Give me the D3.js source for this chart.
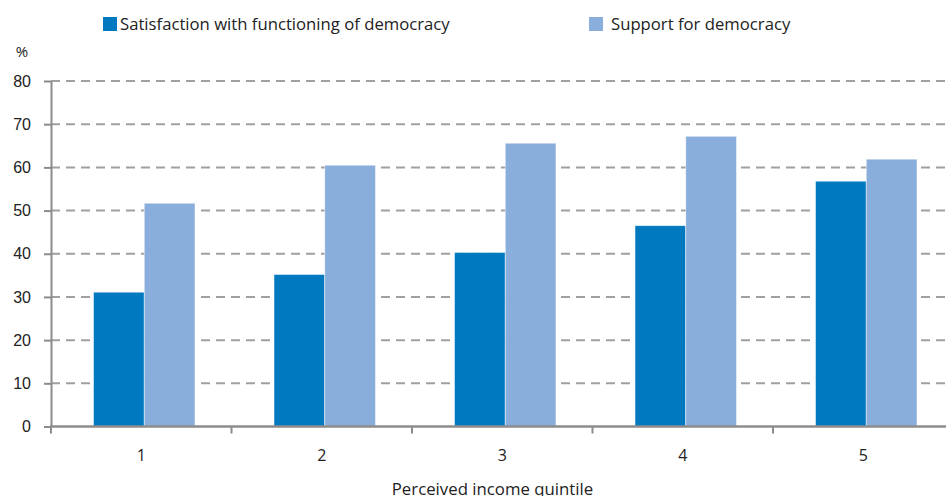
<!DOCTYPE html>
<html>
<head>
<meta charset="utf-8">
<script src="https://cdn.jsdelivr.net/npm/d3@7"></script>
<style>
  html, body { margin: 0; padding: 0; background: #fff; }
  svg { display: block; font-family: "Open Sans", Lato, sans-serif; }
</style>
</head>
<body>
<svg id="chart" width="946" height="496"></svg>
<script>
// Perceived income quintiles and the two survey measures (%)
const quintiles = ["1", "2", "3", "4", "5"];
const seriesNames = ["Satisfaction with functioning of democracy", "Support for democracy"];
const satisfaction = [31.1, 35.2, 40.3, 46.5, 56.8];
const support = [51.7, 60.5, 65.6, 67.2, 61.9];
const yTicks = [0, 10, 20, 30, 40, 50, 60, 70, 80];
const colors = ["#0079c1", "#8aaedb"];

const svg = d3.select("#chart");
const W = 946, H = 496;
const plotLeft = 51, plotTop = 81, plotBottom = 426.5;
const bandW = 180.5;

const x = d3.scaleBand().domain(quintiles).range([plotLeft, plotLeft + bandW * quintiles.length]).padding(0);
const y = d3.scaleLinear().domain([0, 80]).range([plotBottom, plotTop]);
const inner = d3.scaleBand().domain([0, 1]).range([0, 101.5]).padding(0);
const pairOffset = (bandW - 101.5) / 2 + 3;

// horizontal dashed gridlines
svg.append("g").selectAll("line")
  .data(yTicks.filter(d => d > 0))
  .join("line")
  .attr("x1", plotLeft).attr("x2", W)
  .attr("y1", d => y(d)).attr("y2", d => y(d))
  .attr("stroke", "#a0a0a0").attr("stroke-width", 2)
  .attr("stroke-dasharray", "9,6");

// bars
const rows = quintiles.map((q, i) => ({ q, vals: [satisfaction[i], support[i]] }));
const groups = svg.append("g").selectAll("g")
  .data(rows).join("g")
  .attr("transform", d => `translate(${x(d.q) + pairOffset},0)`);
groups.selectAll("rect")
  .data(d => d.vals.map((v, k) => ({ v, k })))
  .join("rect")
  .attr("x", d => inner(d.k))
  .attr("width", inner.bandwidth())
  .attr("y", d => y(d.v))
  .attr("height", d => y(0) - y(d.v))
  .attr("fill", d => colors[d.k])
  .attr("stroke", "rgba(255,255,255,0.6)")
  .attr("stroke-width", 0.8);

// y axis
const yAxis = d3.axisLeft(y).tickValues(yTicks).tickSize(7).tickPadding(13).tickSizeOuter(0);
const gy = svg.append("g").attr("transform", `translate(${plotLeft},0)`).call(yAxis);
gy.select(".domain").attr("stroke", "#8c8c8c").attr("stroke-width", 2);
gy.selectAll(".tick line").attr("stroke", "#8c8c8c").attr("stroke-width", 2);
gy.selectAll(".tick text").attr("fill", "#222").style("font-size", "16px").style("font-family", "inherit");

// x axis
const gx = svg.append("g").attr("transform", `translate(0,${plotBottom})`);
gx.append("line").attr("x1", plotLeft - 1).attr("x2", W).attr("y1", 0).attr("y2", 0)
  .attr("stroke", "#8c8c8c").attr("stroke-width", 2.5);
gx.selectAll(".xt").data(quintiles).join("line")
  .attr("class", "xt")
  .attr("x1", d => x(d)).attr("x2", d => x(d))
  .attr("y1", 0).attr("y2", 7)
  .attr("stroke", "#8c8c8c").attr("stroke-width", 2);
gx.selectAll(".xl").data(quintiles).join("text")
  .attr("class", "xl")
  .attr("x", d => x(d) + x.bandwidth() / 2)
  .attr("y", 34.5)
  .attr("text-anchor", "middle")
  .attr("fill", "#222").style("font-size", "16px")
  .text(d => d);

svg.append("text").attr("x", 492.5).attr("y", 495)
  .attr("text-anchor", "middle").attr("fill", "#222").style("font-size", "16.8px")
  .text("Perceived income quintile");

svg.append("text").attr("x", 22).attr("y", 57)
  .attr("text-anchor", "middle").attr("fill", "#222").style("font-size", "15px")
  .text("%");

// legend
const legendPos = [{ x: 103, tx: 120 }, { x: 589, tx: 611 }];
const lg = svg.append("g").selectAll("g").data(seriesNames).join("g");
lg.append("rect")
  .attr("x", (d, i) => legendPos[i].x).attr("y", 17)
  .attr("width", 14).attr("height", 14)
  .attr("fill", (d, i) => colors[i]);
lg.append("text")
  .attr("x", (d, i) => legendPos[i].tx).attr("y", 30)
  .attr("fill", "#222").style("font-size", "16.7px")
  .text(d => d);
</script>
</body>
</html>
